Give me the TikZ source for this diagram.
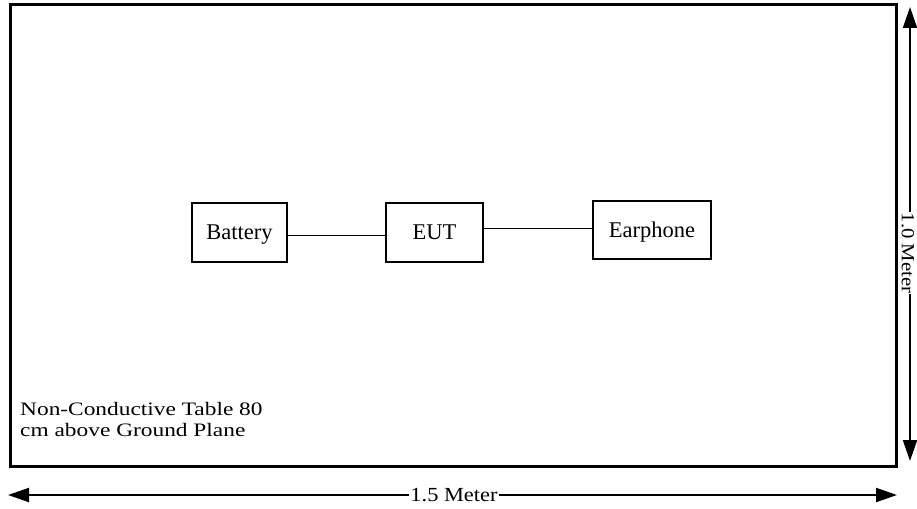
\documentclass[tikz,border=0pt]{standalone}
\usepackage{fontspec}
\setmainfont{Liberation Serif}
\usetikzlibrary{arrows.meta}
\begin{document}
\begin{tikzpicture}[x=1pt,y=-1pt,
  frame/.style={draw, line width=3pt, inner sep=0pt},
  devbox/.style={draw, line width=1.2pt, inner sep=0pt, text height=14.5pt, text depth=0pt,
    font=\fontsize{22.5}{26}\selectfont},
  wire/.style={line width=0.9pt},
  dimline/.style={line width=2pt, {Triangle[length=21pt,width=14pt]}-{Triangle[length=21pt,width=14pt]}},
  dimlabel/.style={fill=white, inner sep=1.5pt, font=\fontsize{20}{24}\selectfont},
  note/.style={anchor=base west, inner sep=0pt, font=\fontsize{19}{22}\selectfont},
]
\useasboundingbox (0,0) rectangle (917,508);
\node[frame, minimum width=886pt, minimum height=461.5pt] (table) at (453.5,235.75) {};

\node[devbox, minimum width=95pt, minimum height=59pt] (bat) at (239.5,232.5) {Battery};
\node[devbox, minimum width=97pt, minimum height=59pt] (eut) at (434.5,232.5) {EUT};
\node[devbox, minimum width=118pt, minimum height=58pt] (ear) at (652,230) {Earphone};

\draw[wire] ([yshift=-2.5pt]bat.east) -- ([yshift=-2.5pt]bat.east -| eut.west);
\draw[wire] ([yshift=4.5pt]eut.east) -- ([yshift=4.5pt]eut.east -| ear.west);

\node[note] (notea) at (20,415) {\scalebox{1.23}[1]{Non-Conductive Table 80}};
\node[note] (noteb) at (20,436.7) {\scalebox{1.23}[1]{cm above Ground Plane}};

\coordinate (hl) at (8,495);
\coordinate (hr) at (897,495);
\draw[dimline] (hl) -- (hr);
\node[dimlabel] (hlab) at (454,495) {\scalebox{1.12}[1]{1.5 Meter}};

\coordinate (vt) at (910,7);
\coordinate (vb) at (910,461);
\draw[dimline] (vt) -- (vb);
\node[dimlabel, rotate=-90, inner sep=0.5pt, font=\fontsize{18.5}{22}\selectfont] (vlab) at (908,253) {\scalebox{1.12}[1]{1.0 Meter}};
\end{tikzpicture}
\end{document}
